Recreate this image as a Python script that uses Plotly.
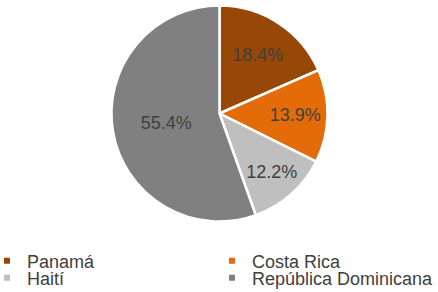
import plotly.graph_objects as go

labels = ["Panamá", "Costa Rica", "Haití", "República Dominicana"]
values = [18.4, 13.9, 12.2, 55.4]
colors = ["#974706", "#E36C09", "#BFBFBF", "#808080"]
legend_ids = ["legend", "legend2", "legend3", "legend4"]

W, H = 438, 292
B = 60
HP = H - B
cx, cy, r = 219.5, 113.5, 108

fig = go.Figure()
fig.add_trace(go.Pie(
    labels=labels, values=values, sort=False, direction="clockwise", rotation=0,
    marker=dict(colors=colors, line=dict(color="white", width=2.5)),
    texttemplate="%{value:.1f}%", textposition="inside",
    insidetextfont=dict(color="#404040", size=18, family="Liberation Sans, Arial"),
    showlegend=False, hoverinfo="label+value",
    domain=dict(x=[(cx - r) / W, (cx + r) / W], y=[(HP - cy - r) / HP, (HP - cy + r) / HP]),
))
for lab, col, lg in zip(labels, colors, legend_ids):
    fig.add_trace(go.Scatter(
        x=[None], y=[None], mode="markers", name=lab, legend=lg,
        marker=dict(symbol="square", size=6, color=col),
    ))

legend_common = dict(
    orientation="v", xanchor="left", yanchor="middle",
    font=dict(color="#404040", size=18, family="Liberation Sans, Arial"),
    bgcolor="rgba(0,0,0,0)", borderwidth=0, itemclick=False, itemdoubleclick=False,
)
col_x = [-13, 212]
row_y = [261, 278]
fig.update_layout(
    width=W, height=H, margin=dict(l=0, r=0, t=0, b=B, autoexpand=False),
    paper_bgcolor="white", plot_bgcolor="white",
    xaxis=dict(visible=False), yaxis=dict(visible=False),
    legend=dict(x=col_x[0] / W, y=(HP - row_y[0]) / HP, **legend_common),
    legend2=dict(x=col_x[1] / W, y=(HP - row_y[0]) / HP, **legend_common),
    legend3=dict(x=col_x[0] / W, y=(HP - row_y[1]) / HP, **legend_common),
    legend4=dict(x=col_x[1] / W, y=(HP - row_y[1]) / HP, **legend_common),
)
fig.write_html("out.html", config={"displayModeBar": False},
               post_script="document.body.style.margin='0';")
